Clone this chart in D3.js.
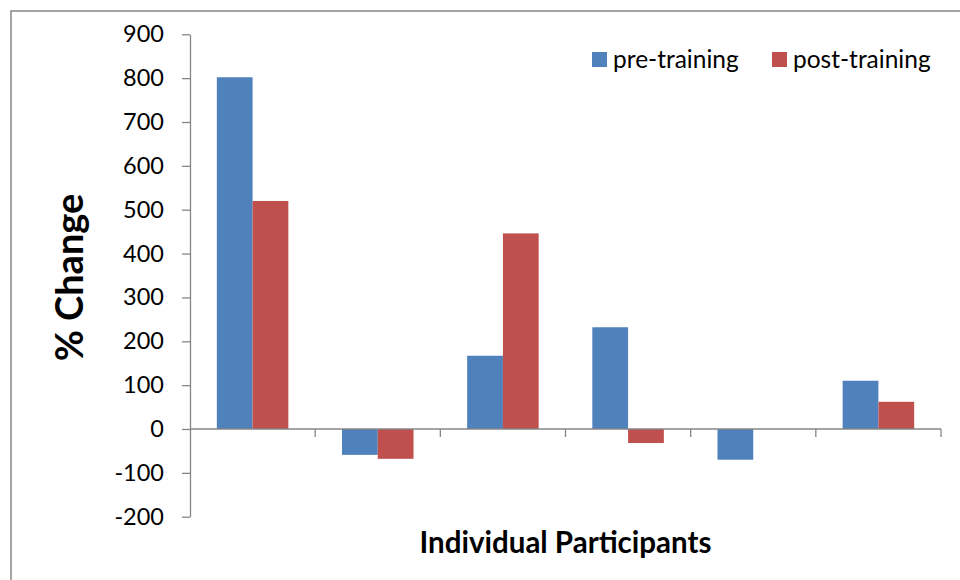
<!DOCTYPE html>
<html>
<head>
<meta charset="utf-8">
<script src="https://cdn.jsdelivr.net/npm/d3@7"></script>
<style>
  html, body { margin: 0; padding: 0; background: #fff; }
  svg { display: block; }
  text { font-family: Lato, "Open Sans", sans-serif; fill: #000; }
</style>
</head>
<body>
<svg id="chart" width="960" height="580"></svg>
<script>
const categories = ["1", "2", "3", "4", "5", "6"];
const seriesNames = ["pre-training", "post-training"];
const preTraining = [802, -59, 167, 232, -70, 110];
const postTraining = [520, -68, 446, -32, 0, 62];
const yTicks = [-200, -100, 0, 100, 200, 300, 400, 500, 600, 700, 800, 900];
const colors = ["#4F81BD", "#C0504D"];

const svg = d3.select("#chart");
const axisColor = "#868686";

// outer chart border (top + left visible)
svg.append("path")
  .attr("d", "M11,581V11H961")
  .attr("fill", "none")
  .attr("stroke", axisColor)
  .attr("stroke-width", 1.5);

const plot = { left: 190, right: 941, top: 34.3, bottom: 516.7 };

const x = d3.scaleBand().domain(categories).range([plot.left, plot.right]).paddingInner(0).paddingOuter(0);
const xs = d3.scaleBand().domain(seriesNames).range([0, x.bandwidth()]).paddingInner(0).paddingOuter(0.75);
const y = d3.scaleLinear().domain([-200, 900]).range([plot.bottom, plot.top]);

const rows = categories.map((c, i) => ({ cat: c, values: [preTraining[i], postTraining[i]] }));

// bars
const g = svg.append("g");
rows.forEach(r => {
  r.values.forEach((v, si) => {
    if (v === 0) return;
    g.append("rect")
      .attr("x", x(r.cat) + xs(seriesNames[si]))
      .attr("width", xs.bandwidth())
      .attr("y", y(Math.max(0, v)))
      .attr("height", Math.abs(y(v) - y(0)))
      .attr("fill", colors[si]);
  });
});

// y axis
const yAxis = svg.append("g")
  .attr("transform", `translate(${plot.left},0)`)
  .call(d3.axisLeft(y).tickValues(yTicks).tickSize(8).tickSizeOuter(0).tickPadding(18).tickFormat(d => String(d)));
yAxis.select(".domain").attr("stroke", axisColor).attr("stroke-width", 1.3);
yAxis.selectAll(".tick line").attr("stroke", axisColor).attr("stroke-width", 1.3);
yAxis.selectAll(".tick text")
  .style("font-family", "Lato, 'Open Sans', sans-serif")
  .style("font-size", "23.5px")
  .attr("fill", "#000");

// x axis at zero
const y0 = y(0);
svg.append("line")
  .attr("x1", plot.left).attr("x2", plot.right)
  .attr("y1", y0).attr("y2", y0)
  .attr("stroke", axisColor).attr("stroke-width", 1.3);
categories.forEach(c => {
  const bx = x(c) + x.bandwidth();
  svg.append("line")
    .attr("x1", bx).attr("x2", bx)
    .attr("y1", y0).attr("y2", y0 + 8)
    .attr("stroke", axisColor).attr("stroke-width", 1.3);
});

// axis titles
svg.append("text")
  .attr("x", (plot.left + plot.right) / 2)
  .attr("y", 553)
  .attr("text-anchor", "middle")
  .style("font-size", "29.5px")
  .style("font-weight", "bold")
  .text("Individual Participants");

svg.append("text")
  .attr("transform", `translate(83,${(plot.top + plot.bottom) / 2 + 2}) rotate(-90)`)
  .attr("text-anchor", "middle")
  .style("font-size", "38px")
  .style("font-weight", "bold")
  .text("% Change");

// legend
const legendX = [592, 772];
seriesNames.forEach((s, i) => {
  svg.append("rect")
    .attr("x", legendX[i]).attr("y", 52)
    .attr("width", 15).attr("height", 15)
    .attr("fill", colors[i]);
  svg.append("text")
    .attr("x", legendX[i] + 21)
    .attr("y", 68)
    .style("font-size", "24.5px")
    .text(s);
});
</script>
</body>
</html>
